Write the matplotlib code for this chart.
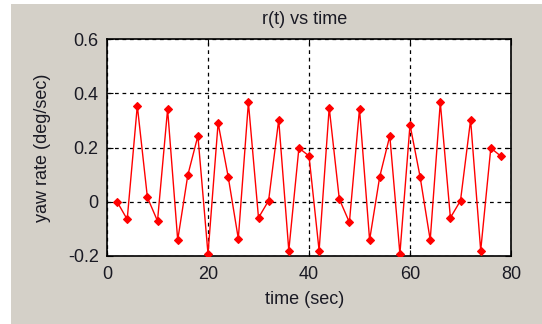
import matplotlib
matplotlib.use("Agg")
import matplotlib.pyplot as plt
from matplotlib.patches import Rectangle

plt.rcParams['font.family'] = ['Liberation Sans', 'DejaVu Sans']

# yaw rate samples, every 2 seconds
time_sec = [2, 4, 6, 8, 10, 12, 14, 16, 18, 20,
            22, 24, 26, 28, 30, 32, 34, 36, 38, 40,
            42, 44, 46, 48, 50, 52, 54, 56, 58, 60,
            62, 64, 66, 68, 70, 72, 74, 76, 78]
yaw_rate = [0.000, -0.065, 0.354, 0.016, -0.071, 0.341, -0.141, 0.098, 0.243, -0.192,
            0.290, 0.092, -0.136, 0.366, -0.059, 0.004, 0.302, -0.180, 0.198, 0.169,
            -0.180, 0.347, 0.010, -0.076, 0.343, -0.141, 0.092, 0.243, -0.192, 0.284,
            0.092, -0.141, 0.366, -0.059, 0.004, 0.302, -0.180, 0.198, 0.168]

x_ticks = [0, 20, 40, 60, 80]
y_ticks = [-0.2, 0, 0.2, 0.4, 0.6]
y_tick_labels = ['-0.2', '0', '0.2', '0.4', '0.6']

W, H = 542, 324
bg = '#d4d0c8'
fig = plt.figure(figsize=(W / 100, H / 100), dpi=100)
fig.patch.set_facecolor(bg)
# thin white margin on the left and top of the window
fig.patches.append(Rectangle((0, 0), 11 / W, 1, transform=fig.transFigure,
                             facecolor='white', edgecolor='none', zorder=-5))
fig.patches.append(Rectangle((0, 1 - 4 / H), 1, 4 / H, transform=fig.transFigure,
                             facecolor='white', edgecolor='none', zorder=-5))

x0, x1, y0, y1 = 107, 511, 39, 256
ax = fig.add_axes([x0 / W, 1 - y1 / H, (x1 - x0) / W, (y1 - y0) / H])
ax.set_facecolor('white')
ax.plot(time_sec, yaw_rate, color='#ff0000', linewidth=1.0,
        marker='D', markersize=4, markeredgewidth=0.8, zorder=3)

ax.set_xlim(0, 80)
ax.set_ylim(-0.2, 0.6)
ax.set_xticks(x_ticks)
ax.set_yticks(y_ticks)
ax.set_yticklabels(y_tick_labels)
ax.grid(True, color='black', linestyle=(0, (3, 3)), linewidth=0.9)
txt = '#1a1a24'
ax.tick_params(direction='in', length=4, width=0.8, top=True, right=True,
               labelsize=13, labelcolor=txt, color='black')
ax.tick_params(axis='x', pad=7)
ax.tick_params(axis='y', pad=6)
for s in ax.spines.values():
    s.set_linewidth(1.2)
    s.set_color('black')

aw, ah = x1 - x0, y1 - y0
ax.set_title('r(t) vs time', fontsize=13, color=txt, va='center', pad=0,
             x=(305 - x0) / aw, y=1 + (y0 - 19) / ah)
ax.set_xlabel('time (sec)', fontsize=13, color=txt, va='center')
ax.xaxis.set_label_coords((305 - x0) / aw, -(300 - y1) / ah)
ax.set_ylabel('yaw rate (deg/sec)', fontsize=13, color=txt, va='center')
ax.yaxis.set_label_coords(-(x0 - 43) / aw, 0.5)

fig.savefig('out.png', dpi=100, facecolor=fig.get_facecolor())
